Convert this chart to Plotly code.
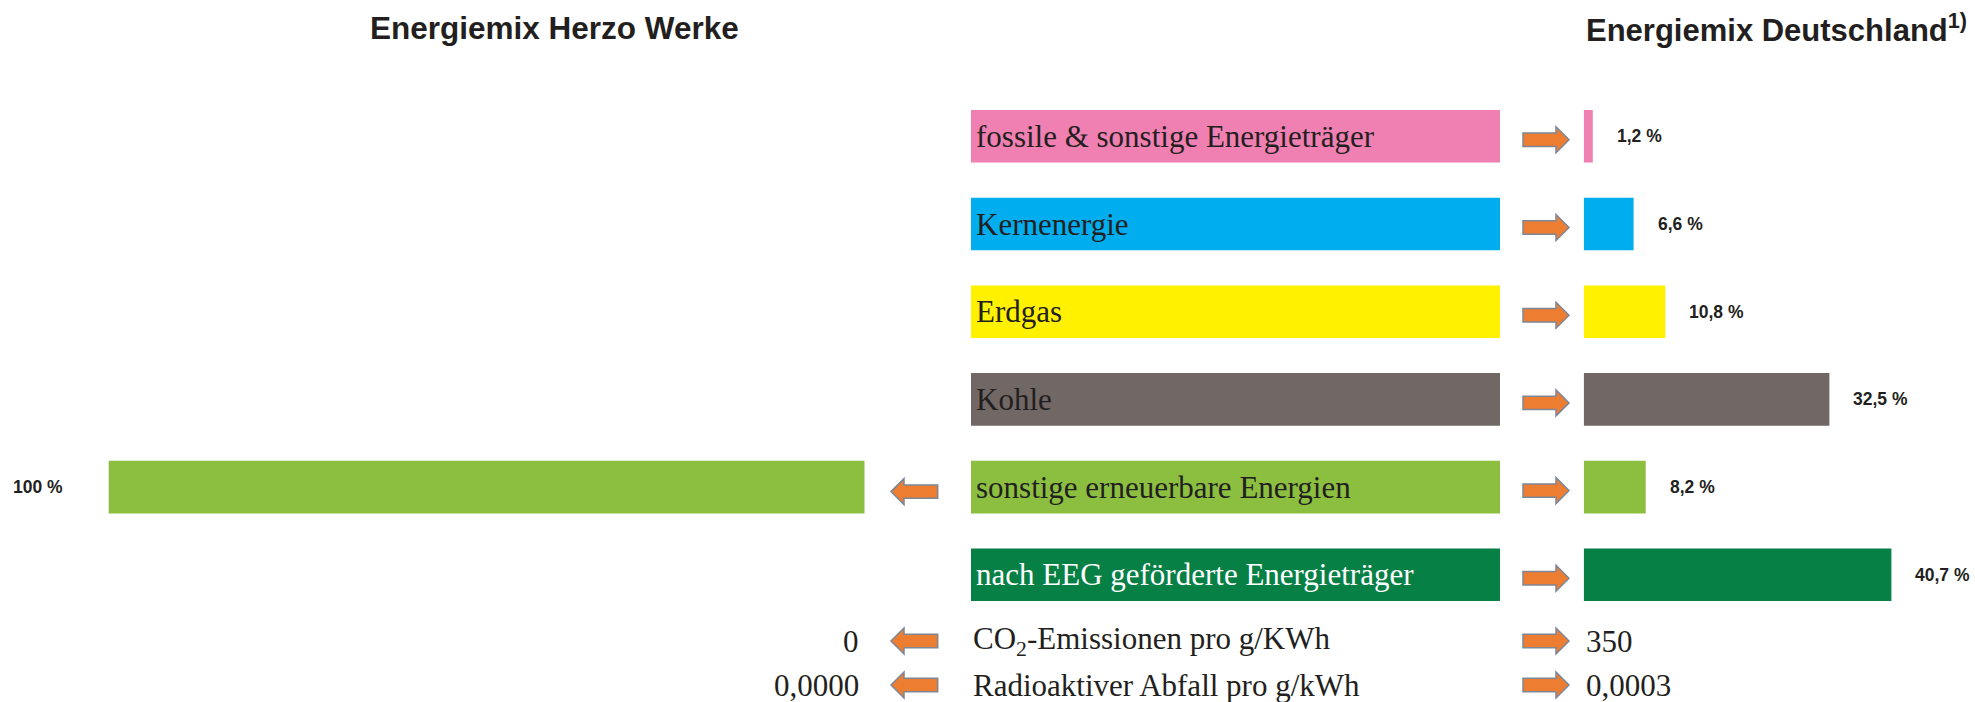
import plotly.graph_objects as go

# ---------------- data ----------------
categories = [
    "fossile & sonstige Energieträger",
    "Kernenergie",
    "Erdgas",
    "Kohle",
    "sonstige erneuerbare Energien",
    "nach EEG geförderte Energieträger",
]
herzo_share = [0, 0, 0, 0, 100, 0]            # Energiemix Herzo Werke (%)
germany_share = [1.2, 6.6, 10.8, 32.5, 8.2, 40.7]  # Energiemix Deutschland (%)

indicators = ["CO<sub>2</sub>-Emissionen pro g/KWh", "Radioaktiver Abfall pro g/kWh"]
herzo_indicator = ["0", "0,0000"]
germany_indicator = ["350", "0,0003"]

title_left = "Energiemix Herzo Werke"
title_right = "Energiemix Deutschland<sup>1)</sup>"

# ---------------- styles ----------------
bar_colors = ["#F07FB2", "#00ADEF", "#FFF100", "#716865", "#8CBF40", "#078046"]
label_colors = ["#231F20", "#231F20", "#231F20", "#231F20", "#231F20", "#FFFFFF"]
ARROW_FILL = "#ED7D31"
ARROW_LINE = "#7D8797"
TEXT_DARK = "#231F20"

W, H = 1975, 702
PX_PER_PCT = 7.56
LEFT_ZERO = 864.7     # px where the Herzo bars start (growing leftwards)
RIGHT_ZERO = 1583.7   # px where the Germany bars start
BOX_X0, BOX_X1 = 971.0, 1500.0
ROW_TOP, ROW_BOTTOM = 92.45, 618.65
IND_ROWS_PX = [641.0, 685.0]

SERIF = "Liberation Serif, Times New Roman, serif"
SANS = "Liberation Sans, Arial, sans-serif"


def pct(v):
    if float(v).is_integer():
        return f"{int(v)} %"
    return f"{v:.1f}".replace(".", ",") + " %"


def arrow_path(x_tail, x_tip, cy=0.0, shaft=6.7, head=13.0, head_len=13.0):
    d = 1 if x_tip > x_tail else -1
    xb = x_tip - d * head_len
    pts = [
        (x_tail, cy - shaft), (xb, cy - shaft), (xb, cy - head), (x_tip, cy),
        (xb, cy + head), (xb, cy + shaft), (x_tail, cy + shaft),
    ]
    return "M " + " L ".join(f"{x:.1f},{y:.1f}" for x, y in pts) + " Z"


def arrow(xanchor, yref, yanchor, tail, tip, cy):
    return dict(type="path", xref="paper", yref=yref, xsizemode="pixel",
                ysizemode="pixel", xanchor=xanchor, yanchor=yanchor,
                path=arrow_path(tail, tip, cy), layer="above",
                fillcolor=ARROW_FILL, line=dict(color=ARROW_LINE, width=1.5))


fig = go.Figure()

fig.add_trace(go.Bar(
    y=categories, x=herzo_share, orientation="h",
    marker=dict(color=bar_colors, line=dict(width=0)),
    width=0.6, xaxis="x", yaxis="y", hoverinfo="skip",
))
fig.add_trace(go.Bar(
    y=categories, x=germany_share, orientation="h",
    marker=dict(color=bar_colors, line=dict(width=0)),
    width=0.6, xaxis="x3", yaxis="y", hoverinfo="skip",
))

shapes = []
annotations = []
LZ = LEFT_ZERO / W
RZ = RIGHT_ZERO / W

for i, (cat, hv, gv) in enumerate(zip(categories, herzo_share, germany_share)):
    # label box
    shapes.append(dict(type="rect", xref="paper", yref="y",
                       x0=BOX_X0 / W, x1=BOX_X1 / W, y0=i - 0.3, y1=i + 0.3,
                       fillcolor=bar_colors[i], line=dict(width=0), layer="below"))
    annotations.append(dict(text=cat, xref="paper", yref="y", x=BOX_X0 / W, y=i,
                            xanchor="left", yanchor="middle", xshift=3, yshift=0,
                            showarrow=False,
                            font=dict(family=SERIF, size=31, color=label_colors[i])))
    # right arrow
    shapes.append(arrow(RZ, "y", i, -60.7, -14.7, -3.5))
    annotations.append(dict(text=pct(gv), xref="x3", yref="y", x=gv, y=i,
                            xanchor="left", yanchor="middle", xshift=22, showarrow=False,
                            font=dict(family=SANS, size=17.5, color=TEXT_DARK, weight="bold")))
    if hv > 0:
        shapes.append(arrow(LZ, "y", i, 73.0, 26.3, -4.5))
        annotations.append(dict(text=pct(hv), xref="x", yref="y", x=hv, y=i,
                                xanchor="right", yanchor="middle", xshift=-44,
                                showarrow=False,
                                font=dict(family=SANS, size=17.5, color=TEXT_DARK,
                                          weight="bold")))

for k, (lab, hv, gv) in enumerate(zip(indicators, herzo_indicator, germany_indicator)):
    yp = 1 - IND_ROWS_PX[k] / H
    annotations.append(dict(text=lab, xref="paper", yref="paper", x=BOX_X0 / W, y=yp,
                            xanchor="left", yanchor="middle", showarrow=False,
                            font=dict(family=SERIF, size=31, color=TEXT_DARK)))
    annotations.append(dict(text=hv, xref="x", yref="paper", x=0, y=yp,
                            xanchor="right", yanchor="middle", xshift=-4, showarrow=False,
                            font=dict(family=SERIF, size=31, color=TEXT_DARK)))
    annotations.append(dict(text=gv, xref="x3", yref="paper", x=0, y=yp,
                            xanchor="left", yanchor="middle", showarrow=False,
                            font=dict(family=SERIF, size=31, color=TEXT_DARK)))
    shapes.append(arrow(LZ, "paper", yp, 73.0, 26.3, 0))
    shapes.append(arrow(RZ, "paper", yp, -60.7, -14.7, 0))

# titles
annotations.append(dict(text=title_left, xref="paper", yref="paper", x=554 / W,
                        y=1 - 28 / H, xanchor="center", yanchor="middle", showarrow=False,
                        font=dict(family=SANS, size=31.5, color=TEXT_DARK, weight="bold")))
annotations.append(dict(text=title_right, xref="x3 domain", yref="paper", x=0,
                        y=1 - 28 / H, xanchor="left", yanchor="middle", showarrow=False,
                        font=dict(family=SANS, size=31, color=TEXT_DARK, weight="bold")))

hidden = dict(visible=False, showgrid=False, zeroline=False, fixedrange=True)
fig.update_layout(
    width=W, height=H,
    margin=dict(l=0, r=0, t=0, b=0),
    paper_bgcolor="white", plot_bgcolor="rgba(0,0,0,0)",
    showlegend=False, barmode="overlay",
    xaxis=dict(domain=[0, LEFT_ZERO / W], range=[LEFT_ZERO / PX_PER_PCT, 0],
               anchor="y", **hidden),
    xaxis3=dict(domain=[RIGHT_ZERO / W, 1], range=[0, (W - RIGHT_ZERO) / PX_PER_PCT],
                anchor="y", **hidden),
    yaxis=dict(domain=[1 - ROW_BOTTOM / H, 1 - ROW_TOP / H], type="category",
               categoryorder="array", categoryarray=categories,
               range=[len(categories) - 0.5, -0.5], **hidden),
    shapes=shapes,
    annotations=annotations,
)

fig.write_html("out.html",
               config={"displayModeBar": False, "staticPlot": True},
               post_script="document.body.style.margin='0px';document.body.style.overflow='hidden';")
